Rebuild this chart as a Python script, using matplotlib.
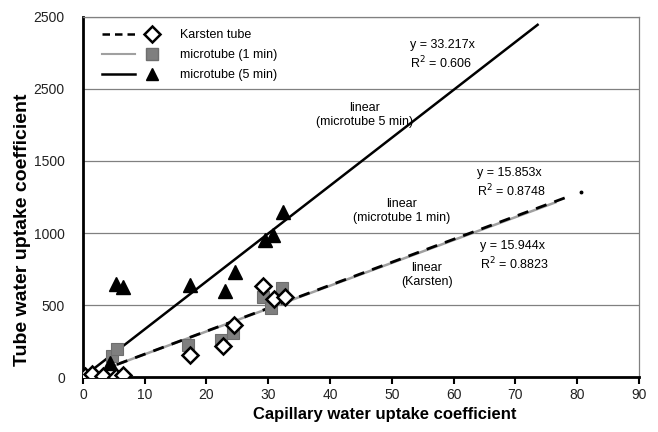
import matplotlib
matplotlib.use("Agg")
import matplotlib.pyplot as plt
import numpy as np
from matplotlib.legend_handler import HandlerTuple
from matplotlib.lines import Line2D

plt.rcParams['font.family'] = ['Liberation Sans', 'DejaVu Sans']

# Data
karsten_x = [0.3, 1.5, 3.3, 5.3, 6.5, 17.3, 22.7, 24.4, 29.1, 30.9, 32.7]
karsten_y = [5, 25, 5, 0, 15, 153, 215, 361, 632, 542, 558]
micro1_x = [4.7, 5.5, 17.0, 22.4, 24.3, 29.1, 30.5, 32.2]
micro1_y = [146, 194, 222, 257, 308, 558, 479, 618]
micro5_x = [4.4, 5.3, 6.5, 17.3, 23.0, 24.6, 29.4, 30.8, 32.4]
micro5_y = [99, 646, 627, 639, 599, 731, 951, 986, 1148]

slope_karsten = 15.944
slope_micro1 = 15.853
slope_micro5 = 33.217
karsten_range = [5.5, 78.0]
micro1_range = [5.0, 76.5]
micro5_range = [0.0, 73.6]

x_ticks = [0, 10, 20, 30, 40, 50, 60, 70, 80, 90]
y_ticks = [0, 500, 1000, 1500, 2000, 2500]
y_tick_labels = ['0', '500', '1000', '1500', '2500', '2500']

fig = plt.figure(figsize=(6.58, 4.32), dpi=100)
ax = fig.add_axes([0.126, 0.127, 0.845, 0.834])

ax.set_xlim(0, 90)
ax.set_ylim(0, 2500)

# gridlines
for yv in y_ticks[1:]:
    ax.axhline(yv, color='#808080', lw=0.9, zorder=0)

# trendlines
xr5 = np.array(micro5_range)
ax.plot(xr5, slope_micro5 * xr5, color='black', lw=1.8, zorder=2)
xr1 = np.array(micro1_range)
ax.plot(xr1, slope_micro1 * xr1, color='#a0a0a0', lw=1.8, zorder=2)
xrk = np.array(karsten_range)
ax.plot(xrk, slope_karsten * xrk, color='black', lw=2.0, ls=(0, (4, 3)), zorder=3)
ax.plot([80.7], [slope_karsten * 80.7], marker='o', ms=1.8, color='black', zorder=3)

# points
ax.plot(micro1_x, micro1_y, ls='none', marker='s', ms=8.5, mfc='#7f7f7f',
        mec='#6e6e6e', mew=0.8, zorder=4)
ax.plot(micro5_x, micro5_y, ls='none', marker='^', ms=9.5, mfc='black',
        mec='black', zorder=4)
ax.plot(karsten_x, karsten_y, ls='none', marker='D', ms=8, mfc='white',
        mec='black', mew=1.8, zorder=5)

# annotations
fs = 9
ax.text(52.9, 2236, 'y = 33.217x\nR$^2$ = 0.606', fontsize=fs, ha='left', va='center', linespacing=1.25)
ax.text(45.6, 1819, 'linear\n(microtube 5 min)', fontsize=fs, ha='center', va='center', linespacing=1.15)
ax.text(63.8, 1347, 'y = 15.853x\nR$^2$ = 0.8748', fontsize=fs, ha='left', va='center', linespacing=1.25)
ax.text(51.6, 1153, 'linear\n(microtube 1 min)', fontsize=fs, ha='center', va='center', linespacing=1.15)
ax.text(64.2, 840, 'y = 15.944x\nR$^2$ = 0.8823', fontsize=fs, ha='left', va='center', linespacing=1.25)
ax.text(55.7, 708, 'linear\n(Karsten)', fontsize=fs, ha='center', va='center', linespacing=1.15)

# spines
for s in ['top', 'right']:
    ax.spines[s].set_color('#808080')
    ax.spines[s].set_linewidth(0.9)
ax.spines['left'].set_linewidth(2.0)
ax.spines['bottom'].set_linewidth(2.0)

ax.set_xticks(x_ticks)
ax.set_xticklabels([str(v) for v in x_ticks], fontsize=10, color='#222222')
ax.set_yticks(y_ticks)
ax.set_yticklabels(y_tick_labels, fontsize=10, color='#222222')
ax.tick_params(axis='x', direction='out', length=5, width=1.5, pad=3)
ax.tick_params(axis='y', length=0, pad=13)

ax.set_xlabel('Capillary water uptake coefficient', fontsize=12, fontweight='bold')
ax.xaxis.set_label_coords(0.543, -0.103)
ax.xaxis.label.set_va('center')
ax.set_ylabel('Tube water uptake coefficient', fontsize=14, fontweight='bold')
ax.yaxis.set_label_coords(-0.108, 0.408)
ax.yaxis.label.set_va('center')

# legend
h_k = (Line2D([], [], color='black', lw=1.8, ls=(0, (3, 2))),
       Line2D([], [], ls='none', marker='D', ms=8, mfc='white', mec='black', mew=1.8))
h_1 = (Line2D([], [], color='#a0a0a0', lw=1.5),
       Line2D([], [], ls='none', marker='s', ms=8, mfc='#7f7f7f', mec='#6e6e6e'))
h_5 = (Line2D([], [], color='black', lw=1.8),
       Line2D([], [], ls='none', marker='^', ms=9, mfc='black', mec='black'))
ax.legend([h_k, h_1, h_5], ['Karsten tube', 'microtube (1 min)', 'microtube (5 min)'],
          handler_map={tuple: HandlerTuple(ndivide=None, pad=0.0)},
          loc='upper left', bbox_to_anchor=(102 / 658, 1 - 29 / 432),
          bbox_transform=fig.transFigure, frameon=False, fontsize=9,
          handlelength=5.3, handletextpad=0.9, labelspacing=0.65,
          borderpad=0, borderaxespad=0)

fig.savefig('out.png', dpi=100)
